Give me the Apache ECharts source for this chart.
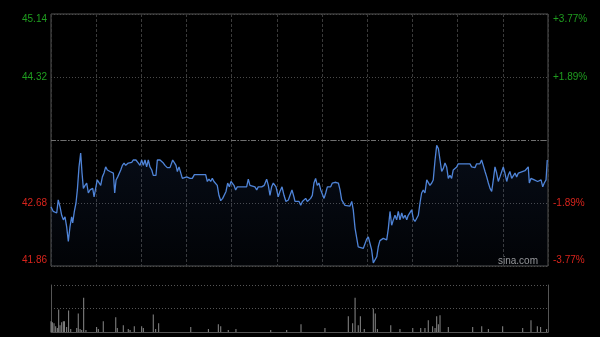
<!DOCTYPE html>
<html><head><meta charset="utf-8">
<script src="https://cdn.jsdelivr.net/npm/echarts@6/dist/echarts.min.js"></script>
<style>html,body{margin:0;padding:0;background:#000;}#c{width:600px;height:337px;}</style>
</head><body><div id="c"></div><script>
// ---- data ----
const prevClose = 43.50;
const priceMin = 41.86, priceMax = 45.14, priceStep = 0.82;
const leftTickLabels = ['41.86', '42.68', '', '44.32', '45.14'];
const rightTickLabels = ['-3.77%', '-1.89%', '', '+1.89%', '+3.77%'];
const sessionMinutes = 330; // 09:30-12:00 + 13:00-16:00

// minutes since open
const times = [0,1.5,2.7,3.8,4.8,6.0,7.1,8.2,9.3,10.4,11.5,12.6,13.7,14.4,15.5,16.6,17.5,18.6,19.7,20.6,
21.5,22.6,23.7,24.8,25.9,27.0,27.7,28.6,29.7,30.7,31.9,33.0,34.1,35.2,36.3,37.4,39.2,40.3,41.4,42.3,
43.2,44.3,45.4,46.3,47.4,48.5,49.6,51.3,53.6,54.7,56.4,58.0,59.1,60.2,61.3,62.4,63.5,64.6,65.7,66.9,
67.9,69.7,70.6,72.4,74.6,75.7,77.2,79.0,80.8,82.1,83.0,83.9,85.0,86.1,87.2,88.3,90.1,91.2,92.3,93.8,
95.2,101.1,102.7,103.8,104.9,106.0,107.1,108.2,109.4,110.4,111.5,112.7,114.0,115.1,116.2,117.3,118.4,119.5,120.6,121.5,
122.6,123.7,129.9,131.0,132.1,133.3,135.4,136.6,137.6,139.9,141.6,143.2,144.3,145.4,146.5,147.6,149.4,150.9,152.0,153.4,
154.7,156.0,157.6,158.7,160.0,161.3,162.0,164.7,165.8,166.9,168.0,169.1,170.2,171.3,172.4,173.5,174.6,175.7,176.8,177.9,
179.1,180.1,181.3,182.4,183.5,184.6,185.7,186.8,188.6,190.8,191.9,193.0,194.1,195.2,196.3,198.5,199.7,200.7,201.9,203.0,
204.0,205.2,207.4,208.5,209.6,210.7,211.8,212.9,214.0,215.1,216.3,217.3,218.4,219.6,220.6,221.8,222.9,224.0,225.1,226.2,
227.3,228.4,229.5,230.6,231.7,232.9,233.9,235.1,236.2,237.2,238.4,239.5,240.6,241.7,242.8,243.9,245.0,246.1,247.2,248.3,
249.5,250.5,251.6,252.8,253.8,255.0,256.1,257.2,258.3,259.4,260.5,261.6,262.7,263.8,264.9,266.0,267.1,268.2,269.4,270.4,
278.2,279.3,280.4,281.5,282.6,284.8,285.9,287.0,288.2,289.3,290.4,291.5,292.6,293.7,294.8,295.9,297.0,298.1,299.2,300.3,
301.4,302.6,303.6,304.7,305.9,306.9,308.1,309.2,310.3,311.4,314.7,315.8,316.9,317.6,318.7,319.8,320.9,322.0,323.1,324.2,
325.4,326.5,327.5,328.7,329.5];
const prices = [42.63,42.57,42.59,42.55,42.72,42.63,42.52,42.46,42.50,42.37,42.18,42.37,42.50,42.42,42.57,42.68,42.85,43.15,43.33,43.07,
42.87,42.91,42.94,42.81,42.85,42.83,42.87,42.76,42.74,42.98,43.00,42.91,43.02,43.07,43.15,43.11,43.09,43.09,43.07,42.81,
42.98,43.02,43.00,43.11,43.17,43.20,43.17,43.20,43.21,43.24,43.24,43.20,43.17,43.24,43.17,43.24,43.15,43.24,43.15,43.11,
43.04,43.04,43.24,43.24,43.20,43.17,43.14,43.14,43.24,43.20,43.17,43.09,43.15,43.13,43.00,43.02,43.02,43.04,43.00,43.00,
43.05,43.05,43.05,42.96,42.99,42.96,43.00,42.96,42.96,42.91,42.78,42.71,42.74,42.74,42.83,42.94,42.89,42.96,42.94,42.91,
42.85,42.89,42.89,42.99,42.91,42.89,42.89,42.85,42.89,42.89,42.91,42.99,42.91,42.78,42.89,42.94,42.89,42.76,42.83,42.89,
42.78,42.70,42.72,42.78,42.85,42.76,42.70,42.70,42.65,42.70,42.70,42.74,42.70,42.72,42.74,42.78,42.94,43.00,42.91,42.94,
42.85,42.83,42.74,42.81,42.89,42.90,42.89,42.94,42.95,42.94,42.85,42.72,42.74,42.65,42.64,42.64,42.70,42.59,42.35,42.34,
42.11,42.09,42.09,42.11,42.21,42.24,42.23,42.07,41.90,41.90,41.98,42.11,42.19,42.20,42.22,42.24,42.20,42.35,42.57,42.39,
42.46,42.52,42.46,42.57,42.46,42.55,42.48,42.52,42.46,42.52,42.52,42.59,42.47,42.44,42.46,42.52,42.68,42.81,42.85,42.81,
42.98,43.00,42.91,42.94,42.98,43.24,43.43,43.39,43.24,43.09,43.13,43.20,43.15,43.00,43.04,43.00,43.11,43.13,43.15,43.19,
43.19,43.15,43.13,43.14,43.19,43.19,43.24,43.17,43.09,43.02,42.94,42.87,42.83,42.98,43.15,43.07,42.96,43.02,43.04,43.15,
43.07,42.96,43.04,43.09,43.00,43.02,43.07,43.02,43.07,43.09,43.10,43.11,43.15,42.94,43.00,43.00,42.98,43.00,42.96,42.96,
42.98,42.89,42.94,42.98,43.24];

// volume (relative units), minute of each visible bar
const volTimes = [0,0.9,2.0,3.1,4.2,5.1,6.0,7.1,8.2,8.9,10.4,11.7,13.1,17.1,18.1,19.3,20.4,21.7,23.2,30.3,
31.4,34.7,43.0,44.0,48.0,51.3,52.5,55.3,60.2,61.3,67.9,69.5,71.5,92.8,104.5,111.1,112.7,117.7,122.8,145.9,
156.5,166.0,181.9,197.4,200.3,201.9,204.0,205.4,208.0,214.0,215.3,216.7,225.6,231.7,240.2,245.5,248.3,250.5,253.4,255.0,
256.1,257.2,258.3,263.8,280.0,286.0,290.4,299.9,313.2,318.7,322.9,325.1,329.1];
const volumes = [11,10,9,6,4,23,7,10,11,11,5,22,3,4,19,3,2,35,2,5,
3,11,15,4,7,3,2,6,6,4,18,3,9,5,3,8,6,2,3,2,
2,8,4,16,9,35,7,16,3,24,19,3,7,3,4,4,4,12,6,4,
16,8,17,5,5,6,3,6,4,12,6,5,3];

// ---- build ----
const pricePairs = times.map((t, i) => [t, prices[i]]);
const volPairs = volTimes.map((t, i) => [t, volumes[i]]);
const green = '#1f9e1f', red = '#d8241c';
function tickIdx(v) { return Math.round((v - priceMin) / priceStep); }
const labelFont = { fontSize: 10, fontFamily: 'Liberation Sans, Arial, sans-serif' };
const rich = {
  g: Object.assign({ color: green }, labelFont),
  r: Object.assign({ color: red }, labelFont),
  gt: Object.assign({ color: green, padding: [10, 0, 0, 0] }, labelFont),
  rb: Object.assign({ color: red, padding: [0, 0, 12, 0] }, labelFont)
};
function styleFor(i) { return i === 4 ? 'gt' : i === 3 ? 'g' : i === 1 ? 'r' : 'rb'; }

const chart = echarts.init(document.getElementById('c'), null, { renderer: 'canvas' });
chart.setOption({
  backgroundColor: '#000',
  animation: false,
  grid: [
    { left: 51, top: 14, right: 52, height: 252, show: true, borderColor: '#555', borderWidth: 1, outerBoundsMode: 'none' },
    { left: 51, top: 285, right: 52, height: 47, outerBoundsMode: 'none' }
  ],
  xAxis: [
    { type: 'value', gridIndex: 0, min: 0, max: sessionMinutes, interval: 30,
      axisLine: { show: false }, axisTick: { show: false }, axisLabel: { show: false },
      splitLine: { show: true, lineStyle: { color: '#3a3a3a', type: [3, 2], width: 1 } } },
    { type: 'value', gridIndex: 1, min: 0, max: sessionMinutes, interval: 30,
      axisLine: { show: true, lineStyle: { color: '#555', width: 1 } }, axisTick: { show: false },
      axisLabel: { show: false }, splitLine: { show: false } }
  ],
  yAxis: [
    { type: 'value', gridIndex: 0, min: priceMin, max: priceMax, interval: priceStep,
      axisLine: { show: false }, axisTick: { show: false },
      axisLabel: { show: true, margin: 4, formatter: v => { const i = tickIdx(v); const t = leftTickLabels[i]; return t ? '{' + styleFor(i) + '|' + t + '}' : ''; }, rich: rich },
      splitLine: { show: true, lineStyle: { color: '#4a4a4a', type: [1, 2], width: 1 } } },
    { type: 'value', gridIndex: 0, position: 'right', min: priceMin, max: priceMax, interval: priceStep,
      axisLine: { show: false }, axisTick: { show: false },
      axisLabel: { show: true, margin: 5, formatter: v => { const i = tickIdx(v); const t = rightTickLabels[i]; return t ? '{' + styleFor(i) + '|' + t + '}' : ''; }, rich: rich },
      splitLine: { show: false } },
    { type: 'value', gridIndex: 1, min: 0, max: 48, interval: 24,
      axisLine: { show: true, lineStyle: { color: '#555', width: 1 } }, axisTick: { show: false }, axisLabel: { show: false },
      splitLine: { show: true, showMinLine: false, lineStyle: { color: '#555', type: [1, 2], width: 1 } } },
    { type: 'value', gridIndex: 1, position: 'right', min: 0, max: 48, interval: 24,
      axisLine: { show: true, lineStyle: { color: '#555', width: 1 } }, axisTick: { show: false }, axisLabel: { show: false },
      splitLine: { show: false } }
  ],
  series: [
    { type: 'line', xAxisIndex: 0, yAxisIndex: 0, data: pricePairs, showSymbol: false, symbol: 'none',
      lineStyle: { color: '#4f84d8', width: 1.3 },
      areaStyle: { origin: 'start', color: new echarts.graphic.LinearGradient(0, 0, 0, 1, [
        { offset: 0, color: 'rgba(45,80,150,0.22)' }, { offset: 1, color: 'rgba(45,80,150,0.06)' }]) },
      markLine: { silent: true, symbol: 'none', label: { show: false },
        lineStyle: { color: '#707070', type: [5, 2, 1, 2], width: 1 },
        data: [{ yAxis: prevClose }] } },
    { type: 'bar', xAxisIndex: 1, yAxisIndex: 2, data: volPairs, barWidth: 1,
      itemStyle: { color: '#8a8a8a' } }
  ],
  graphic: [
    { type: 'text', left: 498, top: 256, silent: true,
      style: { text: 'sina.com', fill: '#9a9a9a', font: '10px Liberation Sans, Arial, sans-serif' } }
  ]
});
</script></body></html>
